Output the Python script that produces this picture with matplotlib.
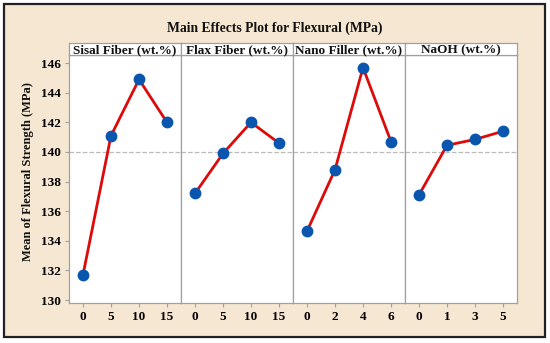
import matplotlib.pyplot as plt
from matplotlib.patches import Rectangle

# data
factors = ['Sisal Fiber (wt.%)', 'Flax Fiber (wt.%)', 'Nano Filler (wt.%)', 'NaOH (wt.%)']
levels = [['0', '5', '10', '15'],
          ['0', '5', '10', '15'],
          ['0', '2', '4', '6'],
          ['0', '1', '3', '5']]
sisal = [131.7, 141.1, 144.9, 142.0]
flax = [137.2, 139.9, 142.0, 140.6]
nano = [134.65, 138.8, 145.7, 140.7]
naoh = [137.1, 140.45, 140.85, 141.4]
means = [sisal, flax, nano, naoh]
grand_mean = 140.0
y_ticks = [130, 132, 134, 136, 138, 140, 142, 144, 146]

BG = '#F6E7D2'
LINE_RED = '#DD0A0A'
DOT_BLUE = '#0A55AE'
FRAME_GRAY = '#A0A0A0'
FONT = 'Liberation Serif'

W, H = 550, 343
fig = plt.figure(figsize=(W / 100, H / 100), dpi=100)
fig.patch.set_facecolor('white')

# beige frame with dark border
fig.patches.append(Rectangle((4 / W, 6 / H), 541 / W, 333 / H, transform=fig.transFigure,
                             facecolor=BG, edgecolor='#222222', linewidth=1.6, zorder=-10))

fig.text(0.5, 1 - 28 / H, 'Main Effects Plot for Flexural (MPa)', ha='center', va='center',
         fontsize=9.8, fontweight='bold', family=FONT, color='#111111')

left0, top, bottom, pw = 69, 55, 303, 112
for i, (name, labs, vals) in enumerate(zip(factors, levels, means)):
    ax = fig.add_axes([(left0 + pw * i) / W, (H - bottom) / H, pw / W, (bottom - top) / H])
    ax.set_facecolor('white')
    x = list(range(len(vals)))
    ax.axhline(grand_mean, color='#BBBBBB', linestyle='--', linewidth=0.9, zorder=1)
    ax.plot(x, vals, color=LINE_RED, linewidth=2, zorder=2)
    ax.plot(x, vals, 'o', color=DOT_BLUE, markersize=7.5, zorder=3)
    ax.set_xlim(-0.5, 3.5)
    ax.set_ylim(129.8, 146.55)
    ax.set_xticks(x)
    ax.set_xticklabels(labs, family=FONT, fontweight='bold', fontsize=9.5)
    ax.set_yticks(y_ticks)
    if i == 0:
        ax.set_yticklabels([str(t) for t in y_ticks], family=FONT, fontweight='bold', fontsize=9.5)
    else:
        ax.tick_params(axis='y', left=False, labelleft=False)
    ax.tick_params(axis='both', color=FRAME_GRAY, length=3, width=0.8, pad=3)
    for s in ax.spines.values():
        s.set_color(FRAME_GRAY)
        s.set_linewidth(0.9)

    # strip label
    sx = fig.add_axes([(left0 + pw * i) / W, (H - top) / H, pw / W, 12 / H])
    sx.set_facecolor('white')
    sx.set_xticks([])
    sx.set_yticks([])
    for s in sx.spines.values():
        s.set_color(FRAME_GRAY)
        s.set_linewidth(0.9)
    sx.text(0.5, 0.42, name, ha='center', va='center', transform=sx.transAxes,
            family=FONT, fontweight='bold', fontsize=9.5, color='#111111')

fig.text(28 / W, 1 - 172 / H, 'Mean of Flexural Strength (MPa)', rotation=90, ha='center',
         va='center', family=FONT, fontweight='bold', fontsize=9, color='#111111')

plt.savefig('out.png', dpi=100)
